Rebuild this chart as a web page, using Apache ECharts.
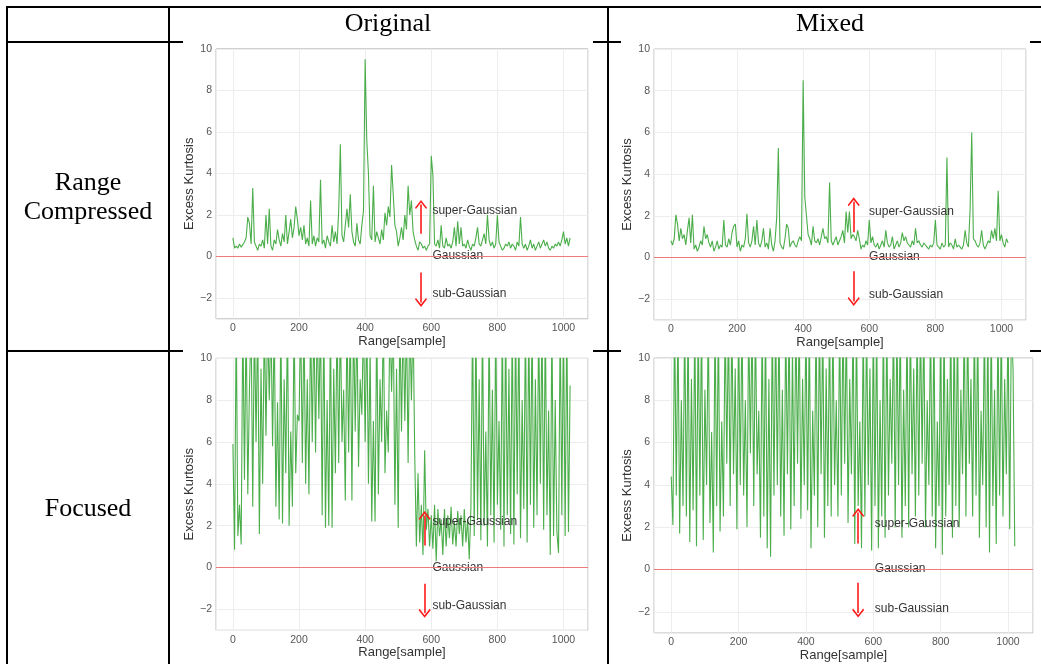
<!DOCTYPE html>
<html><head><meta charset="utf-8">
<script src="https://cdn.jsdelivr.net/npm/echarts@6/dist/echarts.min.js"></script>
<style>html,body{margin:0;padding:0;background:#fff}#c{width:1041px;height:664px}</style>
</head><body><div id="c"></div>
<script>
// ---- data (one value every sampleStep samples, starting at sample 0) ----
const sampleStep = 5;
const columnTitles = ['Original', 'Mixed'];
const rowTitles = [['Range', 'Compressed'], ['Focused']];
const xAxisName = 'Range[sample]';
const yAxisName = 'Excess Kurtosis';
const annotationTexts = ['super-Gaussian', 'Gaussian', 'sub-Gaussian'];

const originalCompressed = [
  0.9,0.4,0.5,0.4,0.6,0.45,0.5,0.7,0.9,1.9,
  1.6,0.6,3.3,0.7,0.5,0.3,0.6,0.5,0.8,0.4,
  2.0,0.6,2.3,0.5,0.3,0.8,0.6,1.3,0.8,0.5,
  1.1,0.7,2.0,0.6,1.2,1.8,0.9,1.4,2.4,1.8,
  1.0,1.4,0.8,1.5,0.6,0.9,0.5,2.7,0.6,1.0,
  0.5,0.9,0.7,3.7,0.6,0.8,0.4,1.0,0.7,0.5,
  1.5,0.7,1.2,0.6,2.2,5.4,1.0,0.7,1.5,2.3,
  1.4,3.0,1.2,0.7,0.5,1.6,0.8,0.6,1.5,2.2,
  9.5,5.6,4.0,1.0,0.8,3.4,0.7,1.2,0.9,0.6,
  1.3,0.8,2.1,1.5,2.4,1.9,4.4,3.0,1.5,1.2,
  0.5,0.9,1.4,0.8,2.0,1.3,3.4,2.0,2.7,1.2,
  0.8,0.5,0.3,0.7,0.6,0.4,0.5,0.3,0.5,0.6,
  4.85,3.9,0.6,0.5,0.8,0.4,1.5,0.5,0.4,0.9,
  0.5,0.6,0.4,0.7,1.4,0.5,1.7,0.6,1.4,0.5,
  0.6,0.4,0.8,0.5,0.3,0.6,0.5,0.9,1.4,0.6,
  0.5,0.8,1.1,0.6,2.0,0.8,0.5,0.7,0.4,0.6,
  2.0,0.7,0.5,0.3,0.4,0.6,0.5,0.7,0.4,0.6,
  0.5,0.3,0.7,0.5,1.9,0.6,0.4,0.6,0.3,0.5,
  0.8,0.4,0.6,0.3,0.5,0.7,0.4,0.6,0.8,0.5,
  0.7,0.4,0.3,0.5,0.4,0.6,0.5,0.7,0.5,0.8,
  1.2,0.6,0.9,0.5,0.9
];
const mixedCompressed = [
  0.8,0.6,0.9,2.05,1.6,0.8,1.4,0.9,1.1,0.6,
  1.3,1.9,0.7,2.05,0.4,0.6,0.3,0.5,0.8,0.6,
  1.5,0.9,1.1,0.7,0.5,0.8,0.3,0.5,0.8,0.4,
  0.6,0.5,1.8,0.6,0.5,0.9,0.6,1.2,1.5,1.6,
  0.5,0.8,0.3,0.6,0.5,0.9,2.1,0.7,0.5,0.8,
  1.5,0.6,1.8,0.7,0.5,0.8,1.4,0.5,0.7,0.4,
  1.4,0.6,0.3,0.8,1.9,5.25,0.7,0.5,0.4,0.9,
  1.6,1.4,0.5,0.7,0.8,0.6,0.5,0.8,1.0,0.8,
  8.5,2.9,2.0,1.1,0.9,0.6,1.5,0.8,0.7,0.9,
  0.6,1.0,1.4,0.9,1.0,0.7,3.6,0.8,0.6,0.8,
  1.0,0.6,0.8,1.0,1.3,0.7,2.2,1.2,2.2,0.9,
  1.1,1.0,0.8,1.3,0.9,0.4,0.6,0.5,0.8,0.6,
  1.8,0.7,1.0,0.6,0.5,0.7,0.4,0.6,0.8,0.5,
  1.3,0.7,0.5,0.6,1.0,0.4,0.6,0.8,0.5,0.7,
  1.2,0.8,1.0,0.7,0.6,0.5,0.8,0.6,1.4,0.7,
  0.8,0.6,0.5,0.7,0.6,0.5,0.4,0.6,0.5,0.7,
  1.8,0.6,0.5,0.4,0.7,0.5,0.6,4.8,0.5,0.7,
  0.6,0.4,0.9,0.5,0.6,0.5,0.4,0.6,1.3,0.7,
  0.5,2.3,6.0,0.9,0.8,0.6,0.5,0.7,1.3,0.6,
  0.4,0.6,0.8,0.7,1.3,0.9,1.4,0.8,3.2,0.8,
  1.1,0.7,0.5,0.9,0.7
];
const originalFocused = [
  5.9,0.85,12,1.5,3.0,1.1,12,4.2,12,3.5,
  8.5,12,2.9,12,6.0,12,1.6,9.5,4.0,12,
  6.3,12,8.0,12,5.8,12,2.9,7.9,2.3,12,
  2.1,9.0,4.5,12,2.0,6.5,2.9,12,4.5,7.3,
  7.0,12,5.0,12,4.0,9.0,3.5,12,6.0,12,
  5.5,12,7.1,12,2.5,12,1.9,8.0,2.0,12,
  1.9,9.5,4.5,12,5.0,12,6.0,8.5,3.2,12,
  5.5,12,3.2,12,6.5,12,4.8,9.0,7.3,12,
  6.0,12,4.0,10.5,2.2,7.0,2.2,12,3.5,9.0,
  6.0,12,4.5,7.5,5.5,12,8.4,12,3.0,9.5,
  1.9,12,6.5,12,7.0,12,5.0,12,8.0,12,
  5.4,1.0,4.5,1.2,3.0,0.6,5.6,1.8,2.8,1.0,
  2.5,0.9,3.0,0.3,2.8,1.5,2.3,0.6,2.8,1.0,
  2.5,1.4,2.9,1.1,2.2,1.0,2.7,1.6,2.5,1.0,
  2.8,1.2,2.3,0.4,2.9,12,1.5,12,2.3,9.0,
  1.3,12,2.0,6.5,1.0,12,2.5,8.5,1.2,12,
  3.0,7.0,1.8,12,1.0,12,2.5,9.5,1.6,12,
  1.1,12,3.5,12,1.4,8.0,2.8,12,1.2,12,
  3.0,12,1.9,9.0,2.5,12,4.0,12,1.8,12,
  2.5,7.5,0.6,12,1.5,8.0,1.7,0.7,12,2.5,
  12,1.5,12,1.7,8.7
];
const mixedFocused = [
  4.4,2.1,12,3.5,12,1.7,8.0,3.0,12,2.5,
  12,1.3,9.0,2.8,12,1.1,12,3.5,12,1.4,
  8.5,4.0,12,2.2,6.5,0.8,12,3.0,12,1.8,
  7.0,2.5,12,5.0,12,3.0,12,4.5,9.5,1.9,
  12,4.0,12,3.5,8.0,2.0,12,5.5,12,3.0,
  12,4.5,7.5,1.5,12,2.5,12,1.0,9.0,0.6,
  12,3.5,12,4.0,12,2.5,8.5,1.6,12,4.5,
  12,1.9,10.5,3.0,12,5.0,12,2.4,9.0,4.0,
  12,2.8,12,1.0,7.5,3.5,12,2.0,12,4.5,
  12,1.5,9.5,3.0,12,2.5,12,4.0,8.0,2.5,
  12,3.5,12,5.0,12,2.2,9.0,4.5,12,1.2,
  12,3.0,7.0,1.0,12,2.5,12,4.0,9.5,0.9,
  12,3.0,12,1.0,8.0,2.5,12,1.5,12,3.5,
  9.0,5.0,12,2.0,12,4.0,12,1.5,8.5,3.0,
  12,2.0,12,4.5,9.5,2.5,12,3.5,12,5.0,
  12,2.0,8.0,4.0,12,2.5,12,1.0,7.0,3.0,
  12,0.7,12,2.5,9.0,4.0,12,1.5,12,3.0,
  12,2.0,8.5,4.5,12,2.5,12,5.0,9.0,2.5,
  12,3.5,12,1.5,7.5,4.0,12,2.0,12,0.8,
  12,3.0,8.5,1.2,12,3.5,12,2.5,9.0,4.5,
  12,1.9,12,9.4,1.1
];

// annotation positions per panel (data coords): arrow x, up arrow [from,to], down arrow [from,to], text x, text y's
const gaussianLevel = 0;
const arrowX      = [569, 553, 580, 555];
const upArrow     = [[1.1, 2.5], [1.21, 2.67], [1.05, 2.48], [1.23, 2.69]];
const downArrow   = [[-0.77, -2.21], [-0.66, -2.11], [-0.78, -2.19], [-0.63, -2.06]];
const textX       = [602, 598, 602, 603];
const textY       = [[2.19, 0.03, -1.8], [2.19, 0.03, -1.8], [2.2, 0.0, -1.82], [2.17, 0.03, -1.84]];

// ---- layout ----
const X_MIN = -51.15, X_MAX = 1074.15;
const panels = [
  { data: originalCompressed, left: 216, top: 48.8,  width: 372, height: 270 },
  { data: mixedCompressed,    left: 654, top: 49.04, width: 372, height: 271 },
  { data: originalFocused,    left: 216, top: 358.27, width: 372, height: 272 },
  { data: mixedFocused,       left: 654, top: 357.96, width: 379, height: 275 }
];
const chevron = 'path://M0,0 L10,9 L8.4,10.6 L0,3 L-8.4,10.6 L-10,9 Z';
const sansFont = '"Liberation Sans", Arial, sans-serif';
const serifFont = '"Liberation Serif", "Times New Roman", serif';
const ZERO_COLOR = '#f07a7a';
const ARROW_COLOR = '#ff1a1a';

const grids = [], xAxes = [], yAxes = [], series = [];
panels.forEach((p, k) => {
  grids.push({ left: p.left, top: p.top, width: p.width, height: p.height,
    show: true, borderColor: '#bdbdbd', borderWidth: 1, backgroundColor: '#fff' });
  xAxes.push({
    type: 'value', gridIndex: k, min: X_MIN, max: X_MAX, splitNumber: 5,
    name: xAxisName, nameLocation: 'middle', nameGap: 15,
    nameTextStyle: { color: '#333', fontSize: 13, fontFamily: sansFont },
    axisLine: { show: false, onZero: false }, axisTick: { show: false },
    axisLabel: { color: '#555', fontSize: 10.5, fontFamily: sansFont, margin: 4,
      showMinLabel: false, showMaxLabel: false, formatter: v => String(v) },
    splitLine: { show: true, lineStyle: { color: '#ededed', width: 1 } }
  });
  yAxes.push({
    type: 'value', gridIndex: k, min: -3, max: 10, splitNumber: 6,
    name: yAxisName, nameLocation: 'middle', nameGap: 18,
    nameTextStyle: { color: '#333', fontSize: 13, fontFamily: sansFont },
    axisLine: { show: false, onZero: false }, axisTick: { show: false },
    axisLabel: { color: '#555', fontSize: 10.5, fontFamily: sansFont, margin: 4,
      showMinLabel: false, showMaxLabel: true,
      formatter: v => (v < 0 ? '\u2212' + Math.abs(v) : String(v)) },
    splitLine: { show: true, lineStyle: { color: '#ededed', width: 1 } }
  });
  // kurtosis curve
  series.push({
    type: 'line', xAxisIndex: k, yAxisIndex: k,
    data: p.data.map((v, i) => [i * sampleStep, v]),
    showSymbol: false, symbol: 'none', clip: true, animation: false, z: 2,
    lineStyle: { color: '#2ca02c', width: 1.1, opacity: 0.85 },
    itemStyle: { color: '#2ca02c' }
  });
  // Gaussian reference level across the whole axis (solid pale red)
  series.push({
    type: 'line', xAxisIndex: k, yAxisIndex: k, animation: false, silent: true,
    data: [[X_MIN, gaussianLevel], [X_MAX, gaussianLevel]],
    showSymbol: false, symbol: 'none', z: 20,
    itemStyle: { color: ZERO_COLOR },
    lineStyle: { color: ZERO_COLOR, type: 'solid', width: 1, opacity: 1 }
  });
  // arrows and texts
  series.push({
    type: 'line', xAxisIndex: k, yAxisIndex: k, data: [], animation: false, z: 21,
    itemStyle: { color: ARROW_COLOR }, lineStyle: { color: ARROW_COLOR },
    markLine: {
      silent: true, animation: false, symbol: ['none', chevron], symbolSize: [12, 9],
      label: { show: false },
      itemStyle: { color: ARROW_COLOR },
      lineStyle: { color: ARROW_COLOR, type: 'solid', width: 1.6, opacity: 1 },
      data: [
        [ { coord: [arrowX[k], upArrow[k][0]] }, { coord: [arrowX[k], upArrow[k][1]] } ],
        [ { coord: [arrowX[k], downArrow[k][0]] }, { coord: [arrowX[k], downArrow[k][1]] } ]
      ]
    },
    markPoint: {
      silent: true, animation: false, symbol: 'rect', symbolSize: 1,
      itemStyle: { color: 'rgba(0,0,0,0)' },
      data: annotationTexts.map((t, j) => ({
        coord: [textX[k], textY[k][j]],
        label: { show: true, position: 'right', distance: 0, formatter: t,
          color: '#333', fontSize: 12, fontFamily: sansFont }
      }))
    }
  });
});

// ---- table frame ----
const tableLines = [
  [6, 7, 1041, 7],
  [7, 6, 7, 664],
  [169, 6, 169, 664],
  [608, 6, 608, 664],
  [6, 42, 183, 42], [593, 42, 621, 42], [1030, 42, 1041, 42],
  [6, 351, 183, 351], [593, 351, 621, 351], [1030, 351, 1041, 351]
];
const graphic = tableLines.map(l => ({
  type: 'line', silent: true, z: 100,
  shape: { x1: l[0], y1: l[1], x2: l[2], y2: l[3] },
  style: { stroke: '#000', lineWidth: 2 }
}));
const tableTexts = [
  [columnTitles[0], 388, 24], [columnTitles[1], 830, 24],
  [rowTitles[0][0], 88, 183], [rowTitles[0][1], 88, 212], [rowTitles[1][0], 88, 509]
];
tableTexts.forEach(t => graphic.push({
  type: 'text', silent: true, z: 100, x: t[1], y: t[2],
  style: { text: t[0], fill: '#000', font: '26px ' + serifFont, textAlign: 'center', textVerticalAlign: 'middle' }
}));

const chart = echarts.init(document.getElementById('c'), null, { renderer: 'canvas' });
chart.setOption({
  animation: false, backgroundColor: '#fff',
  grid: grids, xAxis: xAxes, yAxis: yAxes, series: series, graphic: graphic
});
</script></body></html>
